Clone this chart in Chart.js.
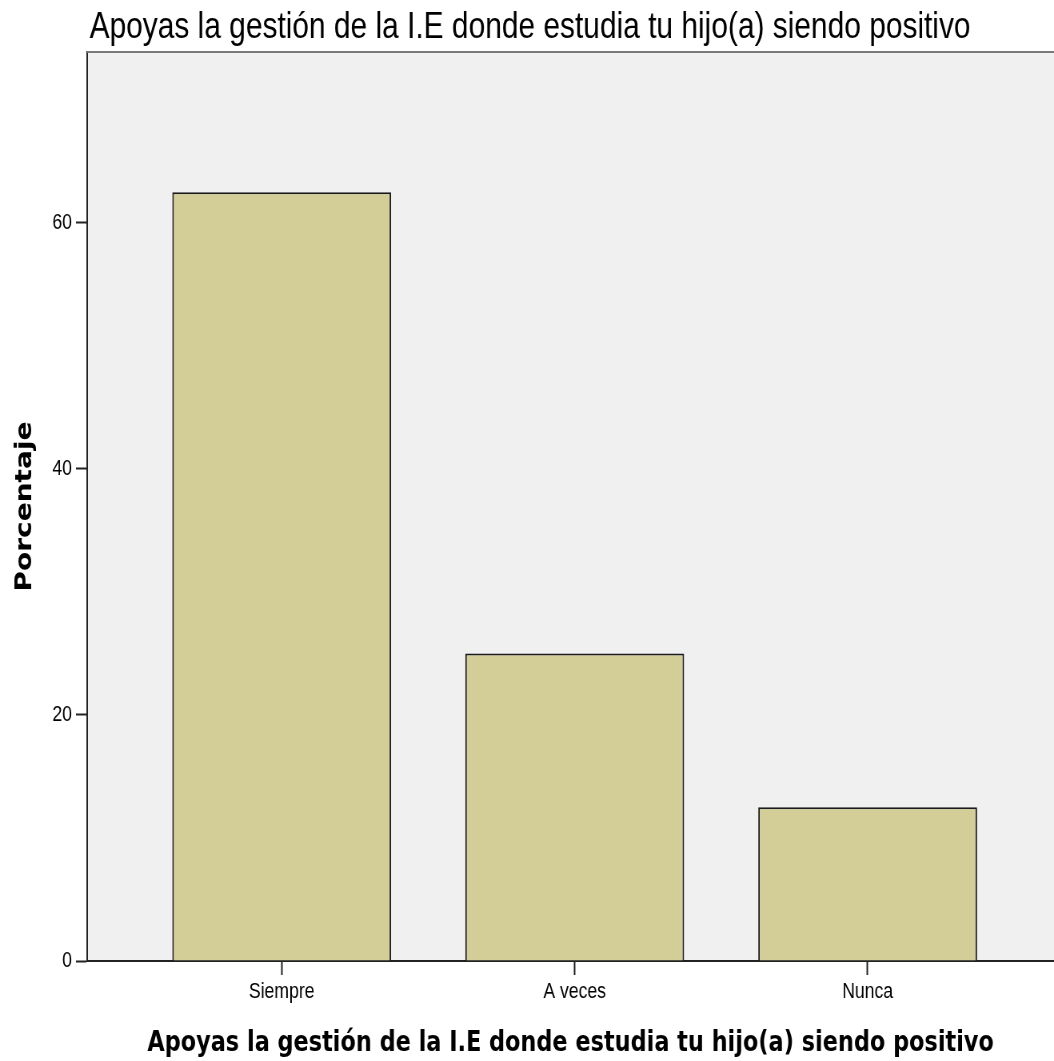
<!DOCTYPE html>
<html>
<head>
<meta charset="utf-8">
<script src="https://cdn.jsdelivr.net/npm/chart.js@4"></script>
<style>
  html, body { margin: 0; padding: 0; background: #fff; overflow: hidden; }
</style>
</head>
<body>
<!-- the original export is squeezed horizontally, so draw wider and shrink -->
<canvas id="grafico" width="1318" height="1061" style="width:1054px;height:1061px"></canvas>
<script>
const titulo = 'Apoyas la gestión de la I.E donde estudia tu hijo(a) siendo positivo';
const categorias = ['Siempre', 'A veces', 'Nunca'];
const porcentajes = [62.5, 25.0, 12.5];
const ticksY = [0, 20, 40, 60];

const sans = '"Liberation Sans", Arial, sans-serif';

// fondo gris del area del grafico, borde superior y titulo principal
const fondo = {
    id: 'fondo',
    beforeDraw(chart) {
        const { ctx, chartArea: a } = chart;
        ctx.save();
        ctx.fillStyle = '#f0f0f0';
        ctx.fillRect(a.left, a.top, a.right - a.left, a.bottom - a.top);
        ctx.restore();
    },
    afterDraw(chart) {
        const { ctx, chartArea: a } = chart;
        ctx.save();
        ctx.strokeStyle = '#7a7a7a';
        ctx.lineWidth = 2;
        ctx.beginPath();
        ctx.moveTo(a.left, a.top);
        ctx.lineTo(a.right, a.top);
        ctx.stroke();
        ctx.fillStyle = '#000';
        ctx.font = '37.4px ' + sans;
        ctx.textBaseline = 'alphabetic';
        ctx.fillText(titulo, 112, 38);
        ctx.restore();
    }
};

new Chart(document.getElementById('grafico'), {
    type: 'bar',
    data: {
        datasets: [{
            label: 'Porcentaje',
            data: porcentajes.map((v, i) => ({ x: i, y: v })),
            backgroundColor: '#d3ce97',
            borderColor: '#1a1a1a',
            borderWidth: 2,
            barPercentage: 0.747,
            categoryPercentage: 1
        }]
    },
    options: {
        responsive: false,
        animation: false,
        layout: { padding: { top: 52, right: 0, left: 0, bottom: 0 } },
        plugins: {
            legend: { display: false },
            tooltip: { enabled: false }
        },
        scales: {
            x: {
                type: 'linear',
                offset: false,
                min: -0.664,
                max: 2.636,
                afterBuildTicks: s => { s.ticks = categorias.map((c, i) => ({ value: i })); },
                afterFit: s => { s.height = 100; },
                ticks: {
                    callback: v => categorias[v],
                    color: '#000',
                    font: { family: sans, size: 22 },
                    padding: 4,
                    maxRotation: 0
                },
                grid: {
                    offset: false,
                    drawOnChartArea: false,
                    drawTicks: true,
                    tickLength: 14,
                    tickWidth: 2,
                    tickColor: '#222'
                },
                border: { color: '#222', width: 2 },
                title: {
                    display: true,
                    text: titulo,
                    color: '#000',
                    font: { family: 'DejaVu Sans', size: 28, weight: 'bold' },
                    padding: { top: 0, bottom: 0 }
                }
            },
            y: {
                min: 0,
                max: 73.9,
                afterBuildTicks: s => { s.ticks = ticksY.map(v => ({ value: v })); },
                afterFit: s => { s.width = 109; },
                ticks: {
                    color: '#000',
                    font: { family: sans, size: 22 },
                    padding: 5
                },
                grid: {
                    drawOnChartArea: false,
                    drawTicks: true,
                    tickLength: 14,
                    tickWidth: 2,
                    tickColor: '#222'
                },
                border: { color: '#222', width: 2 },
                title: {
                    display: true,
                    text: 'Porcentaje',
                    color: '#000',
                    font: { family: 'DejaVu Sans', size: 28, weight: 'bold' },
                    padding: { top: 15, bottom: 0 }
                }
            }
        }
    },
    plugins: [fondo]
});
</script>
</body>
</html>
